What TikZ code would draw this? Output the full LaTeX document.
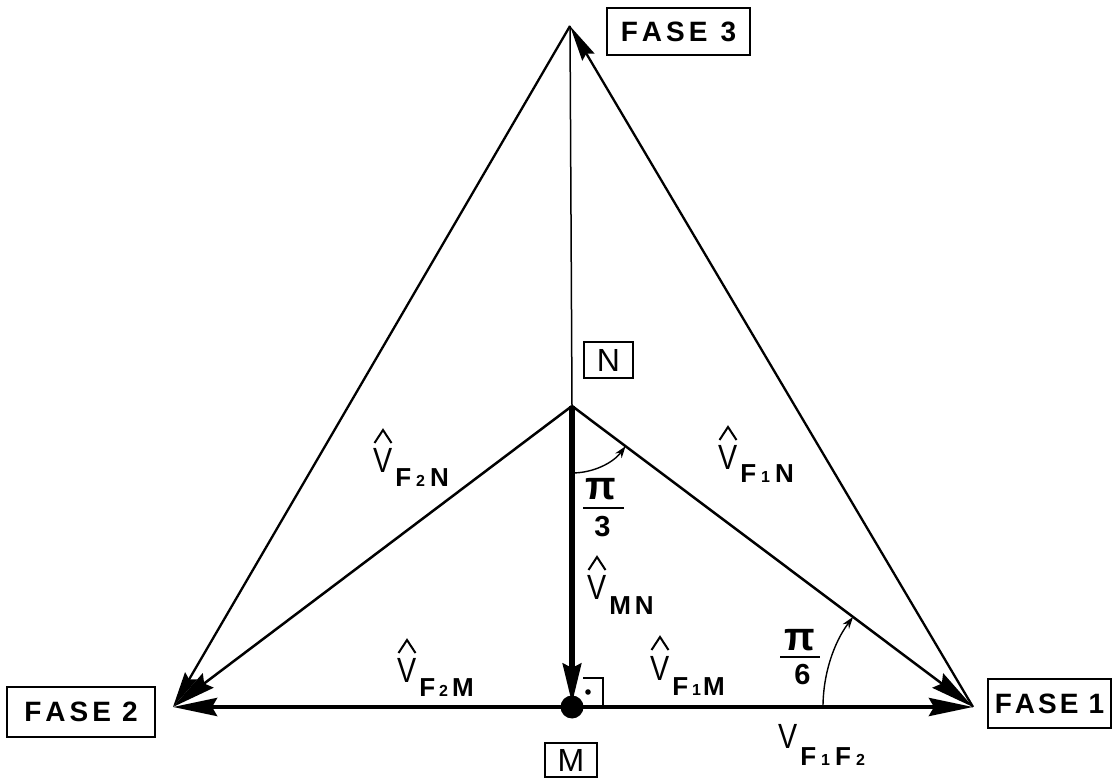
\documentclass[tikz,border=0pt]{standalone}
\usepackage{fontspec}
\setmainfont{Liberation Sans}
\usepackage{graphicx}
\usetikzlibrary{arrows.meta,calc}
\newcommand{\Vfont}{\fontsize{35}{38}\selectfont}
\newcommand{\Sfont}{\fontsize{26}{28}\selectfont\bfseries}
\newcommand{\sd}[1]{{\fontsize{16}{17}\selectfont\bfseries #1}}
\newcommand{\pV}{{\Vfont\scalebox{0.82}[1]{V}}}
\newcommand{\vlab}[3]{#1\hspace{3pt}\raisebox{#3}{\Sfont #2}}
\newcommand{\vhat}[1]{\draw[hatln] ($(#1.base west)+(1.5,30)$) -- ++(8.5,13) -- ++(8.5,-13);}
\begin{document}
\begin{tikzpicture}[x=1pt,y=1pt,
  tri/.style={line width=2.3pt},
  nline/.style={line width=2.5pt},
  heavy/.style={line width=6.5pt},
  baseln/.style={line width=4.2pt},
  thinln/.style={line width=1.5pt},
  hatln/.style={line width=2pt,line join=miter},
  bigtip/.style={-{Stealth[length=44pt,width=18pt,inset=5pt]}},
  midtip/.style={-{Stealth[length=36pt,width=14pt,inset=4pt]}},
  arctip/.style={line width=1.4pt,-{Stealth[length=12pt,width=8pt]}},
  labbox/.style={draw,line width=1.5pt,inner sep=0pt,minimum width=#1},
  fasefont/.style={font=\fontsize{28}{30}\selectfont\bfseries},
  lab/.style={anchor=base west,inner sep=0pt},
  pifont/.style={font=\fontsize{40}{42}\selectfont\bfseries,inner sep=0pt},
  digfont/.style={font=\fontsize{29}{31}\selectfont\bfseries,inner sep=0pt}
]
\useasboundingbox (0,0) rectangle (1113,779);

% main points
\coordinate (F3) at (570,753);
\coordinate (F2) at (173,72);
\coordinate (F1) at (973,72);
\coordinate (N) at (572,373);
\coordinate (M) at (572,72);

% label boxes
\node[labbox=143pt,minimum height=47pt,fasefont] (b3) at (678.5,747.5) {F\hspace{4pt}A\hspace{4pt}S\hspace{4pt}E\hspace{13pt}3};
\node[labbox=148pt,minimum height=50pt,fasefont] (b2) at (81,67) {F\hspace{4pt}A\hspace{4pt}S\hspace{4pt}E\hspace{11pt}2};
\node[labbox=123pt,minimum height=49pt,fasefont] (b1) at (1049.5,75.5) {F\hspace{3pt}A\hspace{3pt}S\hspace{3pt}E\hspace{10pt}1};
\node[labbox=49pt,minimum height=36pt,font=\fontsize{32}{34}\selectfont] (bN) at (608.5,419) {N};
\node[labbox=52pt,minimum height=34pt,font=\fontsize{32}{34}\selectfont] (bM) at (571,19) {M};

% triangle sides
\draw[tri,midtip] (F3) -- (F2);
\draw[tri,midtip] (F1) -- (F3);
\draw[thinln] (F3) -- (N);
% star
\draw[nline,bigtip] (N) -- (F1);
\draw[nline,bigtip] (N) -- (F2);
\draw[heavy,-{Stealth[length=40pt,width=18pt,inset=4pt]},shorten >=3pt] (N) -- (M);
% base
\draw[baseln,bigtip] (M) -- (F1);
\draw[baseln,bigtip] (M) -- (F2);
\fill (M) circle (11.5);

% right angle mark
\draw[line width=1.4pt] ($(M)+(11,29)$) -| ($(M)+(31,2)$);
\fill ($(M)+(16,15)$) circle (2.8);

% angle arcs
\draw[arctip] ($(N)+(-90:67)$) arc[start angle=-90,end angle=-36.9,radius=67];
\draw[arctip] ($(F1)+(180:150)$) arc[start angle=180,end angle=143.1,radius=150];

% fractions
\node[pifont] (p3n) at (601,290) {π};
\draw[line width=2pt] (583,271) -- (624,271);
\node[digfont] (p3d) at (602.5,252) {3};
\node[pifont] (p6n) at (800,139) {π};
\draw[line width=2pt] (780,122) -- (820,122);
\node[digfont] (p6d) at (802.5,104) {6};

% vector labels
\node[lab] (lf2n) at (373,306) {\vlab{\pV}{F\hspace{5pt}\sd{2}\hspace{5pt}N}{-14pt}};
\node[lab] (lf1n) at (718,309) {\vlab{\pV}{F\hspace{5pt}\sd{1}\hspace{5pt}N}{-13pt}};
\node[lab] (lmn) at (587,179) {\vlab{\pV}{M\hspace{4pt}N}{-15pt}};
\node[lab] (lf1m) at (650,99) {\vlab{\pV}{F\hspace{4pt}\sd{1}\hspace{2pt}M}{-15pt}};
\node[lab] (lf2m) at (397,96) {\vlab{\pV}{F\hspace{4pt}\sd{2}\hspace{4pt}M}{-14pt}};
\node[lab] (lf1f2) at (778,31) {\vlab{\pV}{F\hspace{5pt}\sd{1}\hspace{5pt}F\hspace{5pt}\sd{2}}{-17pt}};
% hats
\vhat{lf2n}
\vhat{lf1n}
\vhat{lmn}
\vhat{lf1m}
\vhat{lf2m}
\end{tikzpicture}
\end{document}
